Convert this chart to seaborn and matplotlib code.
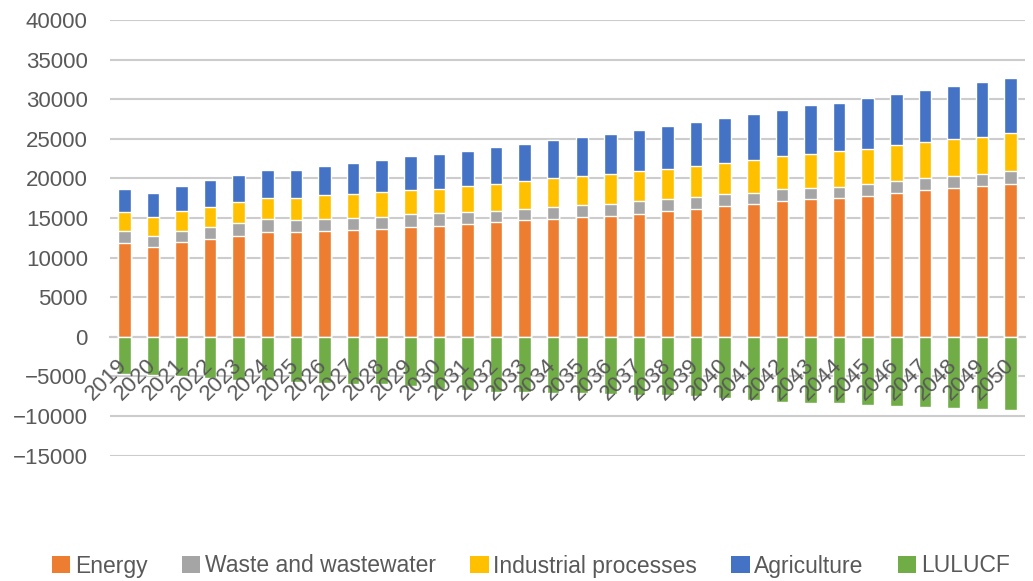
import matplotlib
matplotlib.use("Agg")
import matplotlib.pyplot as plt
from matplotlib.patches import Patch
import pandas as pd
import seaborn as sns

# emissions by sector
years = ["2019", "2020", "2021", "2022", "2023", "2024", "2025", "2026",
         "2027", "2028", "2029", "2030", "2031", "2032", "2033", "2034",
         "2035", "2036", "2037", "2038", "2039", "2040", "2041", "2042",
         "2043", "2044", "2045", "2046", "2047", "2048", "2049", "2050"]

energy = [11830, 11330, 11950, 12370, 12790, 13290, 13200, 13410,
          13500, 13620, 13830, 14040, 14250, 14450, 14750, 14870,
          15080, 15290, 15500, 15830, 16120, 16480, 16750, 17160,
          17370, 17500, 17790, 18200, 18500, 18830, 19040, 19330]

waste = [1580, 1460, 1460, 1460, 1540, 1580, 1550, 1460,
         1500, 1540, 1670, 1540, 1450, 1460, 1370, 1540,
         1540, 1540, 1660, 1620, 1540, 1500, 1450, 1460,
         1460, 1410, 1540, 1460, 1500, 1460, 1540, 1580]

industrial = [2290, 2370, 2420, 2580, 2750, 2710, 2830, 3000,
              3080, 3130, 3000, 3120, 3340, 3420, 3540, 3590,
              3630, 3750, 3750, 3800, 3960, 4000, 4170, 4170,
              4290, 4500, 4420, 4590, 4580, 4710, 4710, 4790]

agriculture = [2920, 3040, 3210, 3340, 3330, 3500, 3540, 3750,
               3870, 4080, 4290, 4380, 4460, 4620, 4670, 4830,
               5000, 5080, 5210, 5410, 5540, 5660, 5750, 5830,
               6130, 6170, 6410, 6450, 6620, 6660, 6870, 7000]

lulucf = [-4750, -4875, -5000, -5170, -5420, -5500, -5710, -5830,
          -5920, -6000, -6250, -6540, -6750, -6960, -6960, -7080,
          -7080, -7170, -7375, -7375, -7500, -7790, -8000, -8210,
          -8330, -8420, -8625, -8750, -8830, -9040, -9170, -9250]

series = ["Energy", "Waste and wastewater", "Industrial processes",
          "Agriculture", "LULUCF"]
colors = ["#ED7D31", "#A5A5A5", "#FFC000", "#4472C4", "#70AD47"]
yticks = [-15000, -10000, -5000, 0, 5000, 10000, 15000, 20000,
          25000, 30000, 35000, 40000]

text_col = "#595959"
grid_col = "#cccccc"

sns.set_theme(style="white")
plt.rcParams["font.family"] = ["Liberation Sans", "DejaVu Sans"]

df = pd.DataFrame({"year": years, "energy": energy, "waste": waste,
                   "industrial": industrial, "agriculture": agriculture,
                   "lulucf": lulucf})
# cumulative tops, drawn from the tallest down so each layer covers the one below
df["c1"] = df["energy"]
df["c2"] = df["c1"] + df["waste"]
df["c3"] = df["c2"] + df["industrial"]
df["c4"] = df["c3"] + df["agriculture"]

fig = plt.figure(figsize=(10.33, 5.81), dpi=100)
ax = fig.add_axes([110 / 1033, 1 - 455.6 / 581, 915 / 1033, 435.6 / 581])

bar_w = 0.44
for col, c in [("c4", colors[3]), ("c3", colors[2]), ("c2", colors[1]),
               ("c1", colors[0]), ("lulucf", colors[4])]:
    sns.barplot(data=df, x="year", y=col, color=c, saturation=1,
                width=bar_w, errorbar=None, ax=ax)

ax.set_xlim(-0.5, len(years) - 0.5)
ax.set_ylim(-15000, 40000)
ax.set_yticks(yticks)
ax.set_xlabel("")
ax.set_ylabel("")

ax.yaxis.grid(True, color=grid_col, lw=1.5)
ax.set_axisbelow(True)
# year labels sit on top of the green bars, like in the original
ax.xaxis.set_zorder(3)
for s in ["left", "right", "top"]:
    ax.spines[s].set_visible(False)
ax.spines["bottom"].set_position(("data", 0))
ax.spines["bottom"].set_color(grid_col)
ax.spines["bottom"].set_linewidth(1.5)
ax.spines["bottom"].set_zorder(0.5)

ax.tick_params(axis="y", length=0, pad=16, labelsize=16, labelcolor=text_col)
ax.tick_params(axis="x", length=0, pad=18, labelsize=16, labelcolor=text_col)
for lab in ax.get_xticklabels():
    lab.set_rotation(45)
    lab.set_ha("right")
    lab.set_va("center")
    lab.set_rotation_mode("anchor")

handles = [Patch(facecolor=c, edgecolor="none") for c in colors]
fig.legend(handles, series, loc="center", bbox_to_anchor=(531 / 1033, 1 - 566 / 581),
           ncol=5, frameon=False, fontsize=16.5, handlelength=0.8,
           handleheight=0.8, handletextpad=0.2, columnspacing=1.5,
           labelcolor=text_col)

fig.savefig("out.png", dpi=100)
